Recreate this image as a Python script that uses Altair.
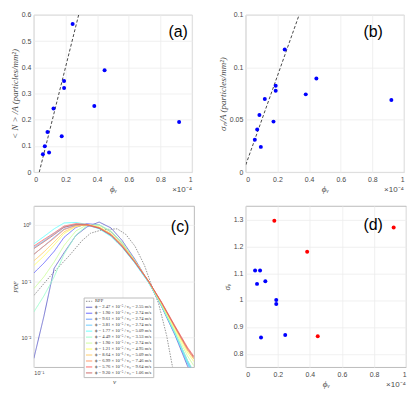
import altair as alt
import pandas as pd

# ---------------- data ----------------
# (a) mean particle count per area vs volume fraction (x in units of 1e-4)
a_phi = [0.057, 0.069, 0.086, 0.096, 0.124, 0.176, 0.191, 0.191, 0.245, 0.382, 0.447, 0.918]
a_n = [0.068, 0.099, 0.153, 0.075, 0.243, 0.137, 0.348, 0.321, 0.565, 0.252, 0.389, 0.191]
a_fit_phi = [0.034, 0.283]
a_fit_n = [0.0, 0.6]

# (b) std of particle count per area
b_phi = [0.057, 0.072, 0.086, 0.095, 0.120, 0.175, 0.189, 0.189, 0.246, 0.379, 0.446, 0.920]
b_sig = [0.031, 0.0406, 0.0545, 0.0241, 0.0698, 0.0482, 0.0824, 0.0777, 0.117, 0.0742, 0.0894, 0.0688]
b_fit_phi = [0.0, 0.337]
b_fit_sig = [0.007, 0.15]

# (d) sigma_V vs volume fraction
d_phi = [0.058, 0.089, 0.070, 0.122, 0.190, 0.190, 0.095, 0.246, 0.178, 0.383, 0.449, 0.923]
d_sig = [1.11, 1.11, 1.06, 1.07, 1.00, 0.985, 0.86, 0.87, 1.295, 1.18, 0.865, 1.27]
d_grp = ["b", "b", "b", "b", "b", "b", "b", "b", "r", "r", "r", "r"]

# (c) PDF curves
c_nu = [0.1, 0.13, 0.17, 0.22, 0.3, 0.4, 0.55, 0.75, 1.0, 1.4, 2.0, 2.8, 4.0, 5.5, 6.5]
c_pdf = [
    [0.0043, 0.024, 0.17, 0.32, 0.65, 0.92, 1.12, 0.88, 0.53, 0.245, 0.097, 0.036, 0.011, 0.0032, 0.0019],
    [0.14, 0.21, 0.34, 0.60, 0.90, 1.05, 1.00, 0.75, 0.47, 0.228, 0.097, 0.037, 0.0115, 0.0036, 0.0021],
    [0.30, 0.42, 0.60, 0.84, 0.98, 1.00, 0.90, 0.68, 0.44, 0.22, 0.097, 0.038, 0.012, 0.004, 0.0024],
    [0.40, 0.52, 0.70, 0.92, 1.00, 0.98, 0.86, 0.64, 0.41, 0.21, 0.095, 0.037, 0.0115, 0.0037, 0.0022],
    [0.46, 0.62, 0.85, 1.08, 1.10, 1.02, 0.85, 0.62, 0.40, 0.21, 0.095, 0.038, 0.012, 0.0036, 0.0021],
    [0.0286, 0.055, 0.12, 0.30, 0.66, 0.97, 1.00, 0.78, 0.49, 0.23, 0.097, 0.037, 0.012, 0.004, 0.0025],
    [0.074, 0.12, 0.22, 0.43, 0.78, 1.00, 0.98, 0.76, 0.48, 0.23, 0.098, 0.039, 0.013, 0.0048, 0.0032],
    [0.19, 0.28, 0.44, 0.70, 0.93, 1.01, 0.92, 0.70, 0.45, 0.225, 0.10, 0.040, 0.014, 0.0055, 0.0038],
    [0.23, 0.33, 0.50, 0.75, 0.95, 1.00, 0.90, 0.69, 0.44, 0.225, 0.10, 0.041, 0.015, 0.006, 0.0042],
    [0.30, 0.42, 0.58, 0.82, 0.98, 0.99, 0.88, 0.67, 0.43, 0.22, 0.10, 0.042, 0.015, 0.0062, 0.0043],
    [0.42, 0.55, 0.72, 0.95, 1.05, 1.02, 0.88, 0.66, 0.42, 0.22, 0.10, 0.043, 0.016, 0.0068, 0.0047],
    [0.38, 0.50, 0.67, 0.90, 1.02, 1.00, 0.87, 0.65, 0.41, 0.215, 0.10, 0.042, 0.0155, 0.0065, 0.0045],
]
rpp_nu = [0.1, 0.16, 0.25, 0.35, 0.44, 0.6, 0.88, 1.1, 1.4, 1.8, 2.08, 2.6, 3.2, 3.74]
rpp_pdf = [0.056, 0.133, 0.28, 0.52, 0.71, 0.82, 0.85, 0.68, 0.42, 0.19, 0.10, 0.04, 0.011, 0.003]

c_labels = [
    "RPP",
    "ϕ = 2.47 × 10⁻⁵ / v₀ = 2.55 m/s",
    "ϕ = 1.90 × 10⁻⁵ / v₀ = 2.74 m/s",
    "ϕ = 9.61 × 10⁻⁶ / v₀ = 2.74 m/s",
    "ϕ = 3.81 × 10⁻⁵ / v₀ = 2.74 m/s",
    "ϕ = 1.77 × 10⁻⁵ / v₀ = 5.09 m/s",
    "ϕ = 4.49 × 10⁻⁵ / v₀ = 3.53 m/s",
    "ϕ = 1.90 × 10⁻⁵ / v₀ = 2.74 m/s",
    "ϕ = 1.21 × 10⁻⁵ / v₀ = 4.95 m/s",
    "ϕ = 8.64 × 10⁻⁶ / v₀ = 5.09 m/s",
    "ϕ = 6.99 × 10⁻⁶ / v₀ = 7.46 m/s",
    "ϕ = 5.76 × 10⁻⁶ / v₀ = 9.64 m/s",
    "ϕ = 9.20 × 10⁻⁵ / v₀ = 1.06 m/s",
]
c_colors = ["#8c8c8c", "#6666cc", "#6666ff", "#6699ff", "#66ccff", "#66ffff", "#99ffcc",
            "#ccff99", "#ffff66", "#ffcc66", "#ff9966", "#ff6666", "#cc6666"]

# ---------------- styles ----------------
SANS = "Liberation Sans"
SERIF = "Liberation Serif"
TXT = "#4a4a4a"
W1, H1 = 159, 158
W2, H2 = 161, 162
xvals = [0, 0.2, 0.4, 0.6, 0.8, 1]


def letter(t, x, y):
    return alt.Chart(pd.DataFrame({"t": [t]})).mark_text(
        font=SANS, fontSize=16, align="center", baseline="middle", color="black"
    ).encode(x=alt.value(x), y=alt.value(y), text="t:N")


def expo(w, h):
    return alt.Chart(pd.DataFrame({"t": ["×10⁻⁴"]})).mark_text(
        font=SANS, fontSize=8, align="right", baseline="middle", color=TXT
    ).encode(x=alt.value(w), y=alt.value(h + 18), text="t:N")


def xaxis():
    return alt.X("x:Q", scale=alt.Scale(domain=[0, 1], nice=False),
                 axis=alt.Axis(values=xvals, format="~g", title="ϕᵥ"))


# (a)
df_a = pd.DataFrame({"x": a_phi, "y": a_n})
df_af = pd.DataFrame({"x": a_fit_phi, "y": a_fit_n})
ya = alt.Y("y:Q", scale=alt.Scale(domain=[0, 0.6], nice=False),
           axis=alt.Axis(values=[0, 0.1, 0.2, 0.3, 0.4, 0.5, 0.6], format="~g",
                         title="< N > /A (particles/mm²)"))
pa = alt.layer(
    alt.Chart(df_af).mark_line(color="#333333", strokeDash=[3, 2], strokeWidth=0.9, clip=True).encode(x=xaxis(), y=ya),
    alt.Chart(df_a).mark_circle(size=16, color="#0000ff", opacity=1).encode(x=xaxis(), y=ya),
    letter("(a)", 145, 17),
    expo(W1, H1),
).properties(width=W1, height=H1)

# (b)
df_b = pd.DataFrame({"x": b_phi, "y": b_sig})
df_bf = pd.DataFrame({"x": b_fit_phi, "y": b_fit_sig})
yb = alt.Y("y:Q", scale=alt.Scale(domain=[0, 0.15], nice=False),
           axis=alt.Axis(values=[0, 0.05, 0.1, 0.15], format="~g",
                         title="σₙ/A (particles/mm²)"))
pb = alt.layer(
    alt.Chart(df_bf).mark_line(color="#333333", strokeDash=[3, 2], strokeWidth=0.9, clip=True).encode(x=xaxis(), y=yb),
    alt.Chart(df_b).mark_circle(size=16, color="#0000ff", opacity=1).encode(x=xaxis(), y=yb),
    letter("(b)", 128, 17),
    expo(W1, H1),
).properties(width=W1, height=H1)

# (c)
rows = []
for nu, p in zip(rpp_nu, rpp_pdf):
    rows.append({"s": "00", "nu": nu, "pdf": p})
for i, ys in enumerate(c_pdf):
    for nu, p in zip(c_nu, ys):
        rows.append({"s": f"{i + 1:02d}", "nu": nu, "pdf": p})
df_c = pd.DataFrame(rows)
sdomain = [f"{i:02d}" for i in range(13)]
dashes = [[1.5, 1.2]] + [[1, 0]] * 12
label_arr = "[" + ",".join("'" + s + "'" for s in c_labels) + "]"
leg = alt.Legend(
    title=None, orient="none", legendX=50, legendY=92,
    symbolType="stroke", symbolSize=40, symbolStrokeWidth=1,
    labelFont=SERIF, labelFontSize=4.6, labelColor="#333333", labelLimit=300,
    labelOffset=2, rowPadding=0, padding=1.5, clipHeight=4.6,
    strokeColor="#bbbbbb", fillColor="#ffffff",
    labelExpr=label_arr + "[toNumber(datum.label)]",
)
pc = alt.layer(
    alt.Chart(df_c).mark_line(strokeWidth=0.9, clip=True).encode(
        x=alt.X("nu:Q", scale=alt.Scale(type="log", domain=[0.1, 6.56], nice=False),
                axis=alt.Axis(values=[0.1, 1], labelExpr="datum.value < 0.5 ? '10⁻¹' : '10⁰'",
                              title="ν", labelFontSize=5.5, titleFontSize=7)),
        y=alt.Y("pdf:Q", scale=alt.Scale(type="log", domain=[0.003, 2.16], nice=False),
                axis=alt.Axis(values=[0.01, 0.1, 1],
                              labelExpr="datum.value < 0.05 ? '10⁻²' : (datum.value < 0.5 ? '10⁻¹' : '10⁰')",
                              title="PDF", labelFontSize=5.5, titleFontSize=6)),
        color=alt.Color("s:N", scale=alt.Scale(domain=sdomain, range=c_colors), legend=leg),
        strokeDash=alt.StrokeDash("s:N", scale=alt.Scale(domain=sdomain, range=dashes), legend=leg),
    ),
    letter("(c)", 147, 21),
).properties(width=W2, height=H2)

# (d)
df_d = pd.DataFrame({"x": d_phi, "y": d_sig, "g": d_grp})
pd_ = alt.layer(
    alt.Chart(df_d).mark_circle(size=16, opacity=1).encode(
        x=xaxis(),
        y=alt.Y("y:Q", scale=alt.Scale(domain=[0.75, 1.35], nice=False),
                axis=alt.Axis(values=[0.8, 0.9, 1.0, 1.1, 1.2, 1.3], format="~g", title="σᵥ")),
        color=alt.Color("g:N", scale=alt.Scale(domain=["b", "r"], range=["#0000ff", "#ff0000"]), legend=None),
    ),
    letter("(d)", 128, 19),
    expo(W2, H2),
).properties(width=W2, height=H2)

chart = alt.concat(
    pa, pb, pc, pd_, columns=2, spacing={"row": 10, "column": 22}
).resolve_scale(
    color="independent", strokeDash="independent", x="independent", y="independent"
).resolve_legend(
    color="independent", strokeDash="independent"
).properties(
    align="each", padding={"left": 1, "top": 1, "right": 0, "bottom": 0}
).configure_axis(
    labelFont=SANS, labelFontSize=7, labelColor=TXT, labelPadding=3,
    titleFont=SERIF, titleFontStyle="italic", titleFontWeight="normal",
    titleFontSize=9, titleColor=TXT, titlePadding=2,
    grid=True, gridColor="#ececec", gridWidth=0.8,
    domain=False, ticks=False, tickSize=0,
).configure_view(stroke="#aaaaaa", strokeWidth=0.8)

chart.save("out.html", embed_options={"renderer": "svg", "actions": False})
